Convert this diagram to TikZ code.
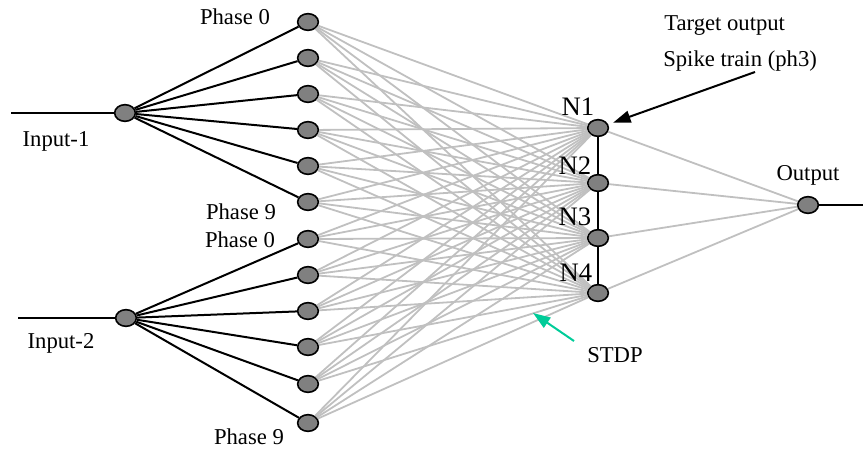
\documentclass[tikz,border=0pt]{standalone}
\usepackage{fontspec}
\setmainfont{Liberation Serif}
\usetikzlibrary{arrows.meta, shapes.geometric}
\definecolor{cellgray}{RGB}{128,128,128}
\definecolor{wiregray}{RGB}{192,192,192}
\definecolor{stdpgreen}{RGB}{0,204,153}
\tikzset{
    cell/.style={ellipse, draw=black, line width=1.2pt, fill=cellgray, minimum width=15.5pt, minimum height=12.5pt, inner sep=0pt},
    lbl/.style={font=\fontsize{17}{20}\selectfont, inner sep=0pt},
    nlbl/.style={font=\fontsize{20}{24}\selectfont, inner sep=0pt},
    fan/.style={black, line width=1.5pt},
    syn/.style={wiregray, line width=1.35pt},
    pointer/.style={-{Triangle[length=13pt, width=9pt]}, line width=1.5pt}
}

\begin{document}
\begin{tikzpicture}[x=0.75pt, y=-0.75pt]
    \useasboundingbox (0,0) rectangle (863,450);

    % Entradas
    \node[cell] (I1) at (125,113) {};
    \node[cell] (I2) at (126,318) {};
    \coordinate (in1) at (11,113);
    \coordinate (in2) at (18,318);

    % Fases (dos grupos de seis)
    \foreach \y [count=\k] in {22,58,94,130,166,202,239,275,311,347,384,423}
        \node[cell] (P\k) at (308,\y) {};

    % Neuronas N1..N4
    \foreach \y [count=\k] in {128,183,238,293}
        \node[cell] (N\k) at (598,\y) {};

    % Salida
    \node[cell] (O) at (808,205) {};
    \coordinate (out) at (863,205);

    % Sinapsis (grises)
    \foreach \p in {1,...,12}
        \foreach \n in {1,...,4}
            \draw[syn] (P\p) -- (N\n);
    \foreach \n in {1,...,4}
        \draw[syn] (N\n) -- (O);

    % Abanicos de entrada
    \draw[fan] (in1) -- (I1);
    \draw[fan] (in2) -- (I2);
    \foreach \p in {1,...,6}
        \draw[fan] (I1) -- (P\p);
    \foreach \p in {7,...,12}
        \draw[fan] (I2) -- (P\p);
    \draw[fan] (N1) -- (N2) -- (N3) -- (N4);
    \draw[fan] (O) -- (out);

    % Etiquetas
    \node[lbl] (li1) at (56,141) {Input-1};
    \node[lbl] (li2) at (61,343) {Input-2};
    \node[lbl] (ph0a) at (235,17) {Phase 0};
    \node[lbl] (ph9a) at (241,212) {Phase 9};
    \node[lbl] (ph0b) at (240,240) {Phase 0};
    \node[lbl] (ph9b) at (249,437) {Phase 9};
    \node[nlbl] (ln1) at (578,107) {N1};
    \node[nlbl] (ln2) at (575,166) {N2};
    \node[nlbl] (ln3) at (575,217) {N3};
    \node[nlbl] (ln4) at (576,273) {N4};
    \node[lbl] (lo) at (808,175) {Output};

    % Salida objetivo
    \node[lbl, anchor=west] (tgt1) at (664,26) {Target output};
    \node[lbl, anchor=west] (tgt2) at (663,61) {Spike train (ph3)};
    \coordinate (tgtail) at (755,72);
    \draw[pointer, shorten >=4pt] (tgtail) -- (N1);

    % STDP
    \node[lbl] (stdp) at (615,355) {STDP};
    \coordinate (stail) at (574,341);
    \coordinate (shead) at (533,313);
    \draw[pointer, stdpgreen] (stail) -- (shead);
\end{tikzpicture}
\end{document}
